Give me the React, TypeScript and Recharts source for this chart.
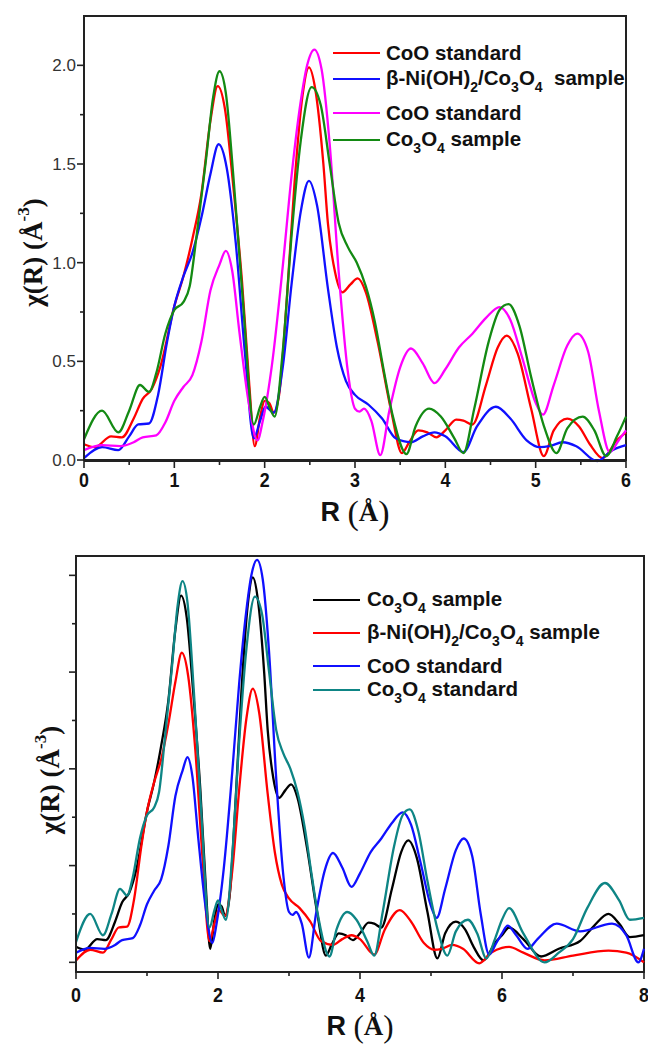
import React from 'react';
import { LineChart, Line, XAxis, YAxis, ReferenceArea, Legend } from 'recharts';

// chi(R) Fourier transform curves (R in Å)
const s1R = [0, 0.12, 0.3, 0.42, 0.55, 0.65, 0.75, 0.85, 1.0, 1.1, 1.2, 1.3, 1.4, 1.48, 1.56, 1.65, 1.75, 1.83, 1.89, 1.95, 2.0, 2.05, 2.1, 2.16, 2.25, 2.33, 2.42, 2.49, 2.56, 2.65, 2.7, 2.78, 2.86, 2.95, 3.03, 3.12, 3.25, 3.4, 3.52, 3.6, 3.7, 3.8, 3.9, 4.0, 4.12, 4.2, 4.3, 4.45, 4.58, 4.68, 4.8, 4.95, 5.09, 5.2, 5.35, 5.48, 5.6, 5.74, 5.9, 6.0, 6.1, 6.3, 6.55, 6.8, 7.1, 7.3, 7.5, 7.65, 7.8, 8.0];
const s1V = [0.08, 0.065, 0.12, 0.115, 0.21, 0.31, 0.36, 0.48, 0.78, 0.93, 1.12, 1.35, 1.72, 1.895, 1.78, 1.4, 0.9, 0.38, 0.07, 0.22, 0.3, 0.29, 0.24, 0.33, 0.85, 1.4, 1.85, 1.99, 1.88, 1.5, 1.2, 0.95, 0.85, 0.89, 0.92, 0.85, 0.6, 0.25, 0.035, 0.09, 0.15, 0.14, 0.115, 0.15, 0.205, 0.2, 0.18, 0.38, 0.57, 0.63, 0.54, 0.26, 0.02, 0.15, 0.21, 0.17, 0.08, 0.01, 0.1, 0.14, 0.18, 0.12, 0.03, 0.07, 0.11, 0.19, 0.25, 0.2, 0.13, 0.14];

const s2R = [0, 0.2, 0.38, 0.5, 0.6, 0.72, 0.82, 0.92, 1.0, 1.1, 1.2, 1.3, 1.4, 1.49, 1.58, 1.68, 1.78, 1.88, 1.95, 2.01, 2.1, 2.2, 2.3, 2.4, 2.49, 2.58, 2.7, 2.8, 2.9, 3.0, 3.15, 3.3, 3.45, 3.62, 3.75, 3.88, 4.0, 4.2, 4.35, 4.56, 4.72, 4.9, 5.05, 5.15, 5.3, 5.45, 5.68, 5.85, 6.0, 6.1, 6.3, 6.6, 7.0, 7.5, 7.75, 8.0];
const s2V = [0.01, 0.065, 0.05, 0.12, 0.18, 0.185, 0.33, 0.6, 0.78, 0.93, 1.05, 1.23, 1.45, 1.6, 1.48, 1.1, 0.55, 0.11, 0.2, 0.27, 0.24, 0.47, 0.9, 1.26, 1.415, 1.29, 0.87, 0.57, 0.4, 0.33, 0.28, 0.21, 0.11, 0.09, 0.12, 0.14, 0.12, 0.04, 0.17, 0.27, 0.21, 0.1, 0.065, 0.07, 0.09, 0.07, -0.005, 0.05, 0.075, 0.08, 0.05, 0.01, 0.035, 0.06, 0.05, 0.0];

const s3R = [0, 0.2, 0.4, 0.55, 0.65, 0.8, 0.9, 1.0, 1.1, 1.2, 1.3, 1.4, 1.5, 1.57, 1.64, 1.72, 1.82, 1.92, 1.98, 2.08, 2.2, 2.3, 2.4, 2.47, 2.55, 2.63, 2.72, 2.82, 2.92, 3.0, 3.05, 3.1, 3.18, 3.28, 3.38, 3.5, 3.62, 3.75, 3.88, 4.0, 4.15, 4.3, 4.45, 4.6, 4.72, 4.85, 5.0, 5.08, 5.2, 5.35, 5.46, 5.58, 5.7, 5.82, 5.92, 6.0, 6.08, 6.2, 6.36, 6.5, 6.77, 7.1, 7.55, 7.75, 7.92, 8.0];
const s3V = [0.05, 0.075, 0.07, 0.09, 0.115, 0.125, 0.19, 0.3, 0.37, 0.43, 0.6, 0.86, 0.99, 1.06, 0.96, 0.65, 0.3, 0.1, 0.2, 0.48, 0.98, 1.45, 1.82, 2.0, 2.08, 1.98, 1.6, 0.95, 0.45, 0.26, 0.245, 0.26, 0.2, 0.025, 0.25, 0.47, 0.565, 0.49, 0.39, 0.46, 0.57, 0.64, 0.72, 0.775, 0.71, 0.52, 0.29, 0.23, 0.38, 0.58, 0.64, 0.55, 0.25, 0.04, 0.1, 0.15, 0.19, 0.14, 0.07, 0.12, 0.2, 0.16, 0.2, 0.14, 0.0, 0.07];

const s4R = [0, 0.2, 0.38, 0.5, 0.62, 0.72, 0.8, 0.9, 1.0, 1.1, 1.17, 1.25, 1.35, 1.43, 1.5, 1.57, 1.66, 1.76, 1.88, 1.95, 2.0, 2.06, 2.11, 2.2, 2.3, 2.4, 2.52, 2.62, 2.72, 2.82, 2.92, 3.02, 3.12, 3.22, 3.32, 3.42, 3.57, 3.67, 3.82, 3.95, 4.1, 4.2, 4.32, 4.48, 4.6, 4.7, 4.82, 4.95, 5.1, 5.23, 5.35, 5.52, 5.65, 5.78, 5.9, 6.0, 6.1, 6.3, 6.6, 6.8, 7.0, 7.2, 7.45, 7.65, 7.8, 8.0];
const s4V = [0.105, 0.25, 0.14, 0.25, 0.38, 0.345, 0.44, 0.64, 0.76, 0.8, 0.88, 1.15, 1.52, 1.84, 1.97, 1.86, 1.4, 0.8, 0.18, 0.27, 0.32, 0.26, 0.22, 0.55, 1.15, 1.62, 1.89, 1.8, 1.5, 1.2, 1.08, 1.0, 0.88, 0.7, 0.45, 0.22, 0.03, 0.17, 0.26, 0.22, 0.11, 0.035, 0.26, 0.6, 0.76, 0.79, 0.68, 0.42, 0.16, 0.035, 0.16, 0.22, 0.15, 0.02, 0.12, 0.22, 0.28, 0.15, 0.0, 0.05, 0.12, 0.28, 0.41, 0.32, 0.22, 0.23];

const topXTicks = [0, 0.5, 1, 1.5, 2, 2.5, 3, 3.5, 4, 4.5, 5, 5.5, 6];
const bottomXTicks = [0, 1, 2, 3, 4, 5, 6, 7, 8];
const yTicks = [0, 0.25, 0.5, 0.75, 1, 1.25, 1.5, 1.75, 2];

const toPoints = (rs: number[], vs: number[], maxR: number) =>
  rs.map((r, i) => ({ r, v: vs[i] })).filter((p) => p.r <= maxR + 1e-9);

const AXIS = '#222';
const SANS = '"Liberation Sans", Arial, sans-serif';
const SERIF = '"Liberation Serif", "Times New Roman", serif';

type Seg = { t: string; sub?: boolean };
type Entry = { segs: Seg[]; color: string; y: number };

const co3o4 = (tail: string): Seg[] => [{ t: 'Co' }, { t: '3', sub: true }, { t: 'O' }, { t: '4', sub: true }, { t: tail }];
const niSample = (tail: string): Seg[] => [{ t: 'β-Ni(OH)' }, { t: '2', sub: true }, { t: '/' }, ...co3o4(tail)];

const topEntries: Entry[] = [
  { segs: [{ t: 'CoO standard' }], color: '#ff0000', y: 53 },
  { segs: niSample('\u00a0 sample'), color: '#1010ff', y: 79 },
  { segs: [{ t: 'CoO standard' }], color: '#ff00ff', y: 113 },
  { segs: co3o4(' sample'), color: '#138a13', y: 140 },
];

const bottomEntries: Entry[] = [
  { segs: co3o4(' sample'), color: '#000000', y: 60 },
  { segs: niSample(' sample'), color: '#ff0000', y: 93 },
  { segs: [{ t: 'CoO standard' }], color: '#1010ff', y: 126 },
  { segs: co3o4(' standard'), color: '#0e8585', y: 150 },
];

const LegendBox = ({ entries, lineX, textX }: { entries: Entry[]; lineX: number; textX: number }) => (
  <div style={{ position: 'relative', width: 648, height: 170 }}>
    {entries.map((e, i) => (
      <div key={i} style={{ position: 'absolute', left: lineX, top: e.y - 12, height: 24, display: 'flex', alignItems: 'center', whiteSpace: 'nowrap' }}>
        <div style={{ width: 47, height: 2.6, background: e.color }} />
        <span style={{ marginLeft: textX - lineX - 47, fontFamily: SANS, fontWeight: 700, fontSize: 20.5, lineHeight: '24px', color: '#111' }}>
          {e.segs.map((s, j) =>
            s.sub ? (
              <span key={j} style={{ fontSize: 14, position: 'relative', top: 7 }}>{s.t}</span>
            ) : (
              <span key={j}>{s.t}</span>
            )
          )}
        </span>
      </div>
    ))}
  </div>
);

const makeXTick = (labelEvery: number, labelDy: number) => (props: any) => {
  const { x, y, payload } = props;
  const v = payload.value as number;
  const major = Math.abs(v / labelEvery - Math.round(v / labelEvery)) < 1e-6;
  return (
    <g>
      <line x1={x} x2={x} y1={y} y2={y + (major ? 7 : 4)} stroke={AXIS} strokeWidth={1.6} />
      {major && (
        <text transform={`translate(${x},${y + labelDy}) scale(0.85,1)`} textAnchor="middle" fontFamily={SANS} fontWeight={700} fontSize={21} fill="#111">
          {v}
        </text>
      )}
    </g>
  );
};

const makeYTick = (showLabels: boolean) => (props: any) => {
  const { x, y, payload } = props;
  const v = payload.value as number;
  const major = Math.abs(v * 2 - Math.round(v * 2)) < 1e-6;
  return (
    <g>
      <line x1={x} x2={x - (major ? 7 : 4)} y1={y} y2={y} stroke={AXIS} strokeWidth={1.6} />
      {showLabels && major && (
        <text x={x - 8} y={y} dy="0.35em" textAnchor="end" fontFamily={SANS} fontSize={17} fill="#333">
          {v.toFixed(1)}
        </text>
      )}
    </g>
  );
};

const makeXTitle = (dy: number, parenSize: number) => (props: any) => {
  const vb = props.viewBox || {};
  const cx = vb.x + vb.width / 2;
  const cy = vb.y + dy;
  return (
    <text x={cx} y={cy} textAnchor="middle" dominantBaseline="central" fill="#111">
      <tspan fontFamily={SANS} fontWeight={700} fontSize={27}>R </tspan>
      <tspan fontFamily={SERIF} fontSize={parenSize}>(</tspan>
      <tspan fontFamily={SERIF} fontWeight={700} fontSize={27}>Å</tspan>
      <tspan fontFamily={SERIF} fontSize={parenSize}>)</tspan>
    </text>
  );
};

const makeYTitle = (cxAbs: number, dy: number) => (props: any) => {
  const vb = props.viewBox || {};
  const cy = vb.y + vb.height / 2 + dy;
  return (
    <text x={cxAbs} y={cy} transform={`rotate(-90, ${cxAbs}, ${cy})`} textAnchor="middle" dominantBaseline="central" fontFamily={SERIF} fontWeight={700} fontSize={27} fill="#111">
      χ(R) (Å
      <tspan fontSize={17} dy={-10}>-3</tspan>
      <tspan dy={10}>)</tspan>
    </text>
  );
};

const TopChart = () => (
  <LineChart width={648} height={540} margin={{ top: 16, right: 22, bottom: 0, left: 0 }}>
    <ReferenceArea x1={0} x2={6} y1={0} y2={2.25} fill="none" stroke={AXIS} strokeWidth={2} />
    <XAxis
      type="number"
      dataKey="r"
      domain={[0, 6]}
      ticks={topXTicks}
      interval={0}
      height={79}
      tickSize={0}
      tickMargin={0}
      tickLine={false}
      axisLine={{ stroke: AXIS, strokeWidth: 2 }}
      tick={makeXTick(1, 26)}
      label={makeXTitle(51, 34)}
      allowDuplicatedCategory={false}
    />
    <YAxis
      type="number"
      domain={[0, 2.25]}
      ticks={yTicks}
      interval={0}
      width={84}
      tickSize={0}
      tickMargin={0}
      tickLine={false}
      axisLine={{ stroke: AXIS, strokeWidth: 2 }}
      tick={makeYTick(true)}
      label={makeYTitle(33, 14)}
    />
    <Legend layout="vertical" align="center" verticalAlign="middle" wrapperStyle={{ left: 0, top: 0, width: 648 }} content={() => <LegendBox entries={topEntries} lineX={333} textX={386} />} />
    <Line data={toPoints(s1R, s1V, 6)} dataKey="v" type="monotone" stroke="#ff0000" strokeWidth={2.3} dot={false} isAnimationActive={false} />
    <Line data={toPoints(s2R, s2V, 6)} dataKey="v" type="monotone" stroke="#1010ff" strokeWidth={2.3} dot={false} isAnimationActive={false} />
    <Line data={toPoints(s3R, s3V, 6)} dataKey="v" type="monotone" stroke="#ff00ff" strokeWidth={2.3} dot={false} isAnimationActive={false} />
    <Line data={toPoints(s4R, s4V, 6)} dataKey="v" type="monotone" stroke="#138a13" strokeWidth={2.3} dot={false} isAnimationActive={false} />
  </LineChart>
);

const BottomChart = () => (
  <LineChart width={648} height={504} margin={{ top: 16, right: 4, bottom: 0, left: 0 }}>
    <ReferenceArea x1={0} x2={8} y1={-0.05} y2={2.1} fill="none" stroke={AXIS} strokeWidth={2} />
    <XAxis
      type="number"
      dataKey="r"
      domain={[0, 8]}
      ticks={bottomXTicks}
      interval={0}
      height={72}
      tickSize={0}
      tickMargin={0}
      tickLine={false}
      axisLine={{ stroke: AXIS, strokeWidth: 2 }}
      tick={makeXTick(2, 30)}
      label={makeXTitle(54, 31)}
      allowDuplicatedCategory={false}
    />
    <YAxis
      type="number"
      domain={[-0.05, 2.1]}
      ticks={yTicks}
      interval={0}
      width={76}
      tickSize={0}
      tickMargin={0}
      tickLine={false}
      axisLine={{ stroke: AXIS, strokeWidth: 2 }}
      tick={makeYTick(false)}
      label={makeYTitle(50, 16)}
    />
    <Legend layout="vertical" align="center" verticalAlign="middle" wrapperStyle={{ left: 0, top: 0, width: 648 }} content={() => <LegendBox entries={bottomEntries} lineX={313} textX={367} />} />
    <Line data={toPoints(s1R, s1V, 8)} dataKey="v" type="monotone" stroke="#000000" strokeWidth={2.3} dot={false} isAnimationActive={false} />
    <Line data={toPoints(s2R, s2V, 8)} dataKey="v" type="monotone" stroke="#ff0000" strokeWidth={2.3} dot={false} isAnimationActive={false} />
    <Line data={toPoints(s3R, s3V, 8)} dataKey="v" type="monotone" stroke="#1010ff" strokeWidth={2.3} dot={false} isAnimationActive={false} />
    <Line data={toPoints(s4R, s4V, 8)} dataKey="v" type="monotone" stroke="#0e8585" strokeWidth={2.3} dot={false} isAnimationActive={false} />
  </LineChart>
);

export default function App() {
  return (
    <div style={{ position: 'absolute', left: 0, top: 0, width: 648, height: 1044, background: '#fff', overflow: 'hidden' }}>
      <div style={{ position: 'absolute', left: 0, top: 540 }}>
        <BottomChart />
      </div>
      <div style={{ position: 'absolute', left: 0, top: 0, height: 540 }}>
        <TopChart />
      </div>
    </div>
  );
}
